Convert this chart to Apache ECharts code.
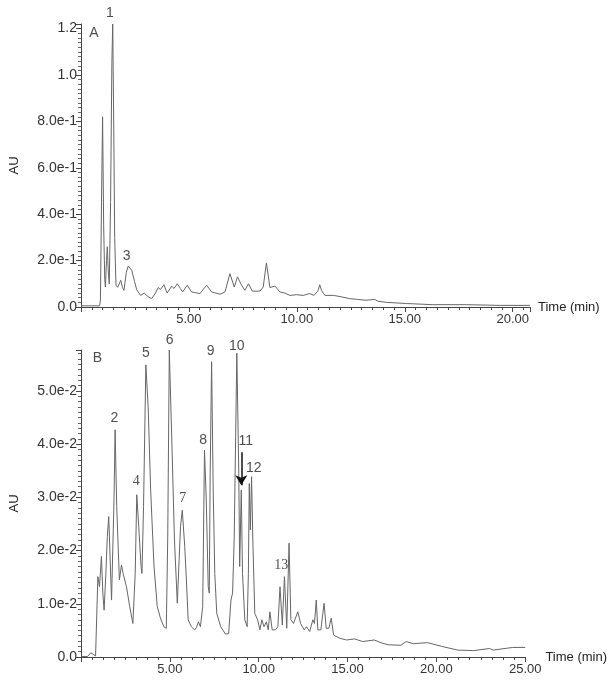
<!DOCTYPE html>
<html>
<head>
<meta charset="utf-8">
<script src="https://cdn.jsdelivr.net/npm/echarts@6/dist/echarts.min.js"></script>
<style>
  html, body { margin: 0; padding: 0; background: #fff; }
  #main { width: 608px; height: 680px; }
</style>
</head>
<body>
<div id="main"></div>
<script>
// chromatogram A: time (min) / absorbance (AU)
const timeA = [0, 0.5, 0.86, 0.9, 0.95, 1.0, 1.05, 1.1, 1.13, 1.18, 1.22, 1.26, 1.31, 1.37, 1.43, 1.47, 1.51, 1.56, 1.62,
  1.7, 1.84, 1.92, 1.99, 2.1, 2.19, 2.35, 2.48, 2.58, 2.76, 2.93, 3.1, 3.27, 3.45, 3.58, 3.68, 3.84, 3.99, 4.2, 4.31,
  4.46, 4.6, 4.71, 4.92, 5.12, 5.3, 5.51, 5.82, 6.05, 6.25, 6.44, 6.67, 6.9, 7.1, 7.25, 7.44, 7.59, 7.76, 7.93, 8.1,
  8.29, 8.44, 8.59, 8.75, 8.99, 9.21, 9.44, 9.68, 9.99, 10.29, 10.6, 10.79, 10.98, 11.06, 11.15, 11.3, 11.69, 12.0,
  12.45, 12.8, 13.2, 13.6, 13.75, 14.15, 15.08, 16.3, 17.85, 19.4, 20.8]
const auA = [0.005, 0.005, 0.005, 0.03, 0.45, 0.82, 0.35, 0.12, 0.086, 0.2, 0.26, 0.16, 0.10, 0.45, 1.05, 1.22, 0.85, 0.3, 0.094,
  0.085, 0.115, 0.085, 0.072, 0.15, 0.177, 0.158, 0.11, 0.075, 0.05, 0.06, 0.045, 0.036, 0.06, 0.084, 0.075, 0.096, 0.06, 0.09, 0.08,
  0.10, 0.08, 0.065, 0.094, 0.065, 0.062, 0.058, 0.094, 0.065, 0.06, 0.055, 0.065, 0.144, 0.086, 0.13, 0.094, 0.072, 0.10, 0.069, 0.068,
  0.069, 0.086, 0.19, 0.084, 0.09, 0.065, 0.06, 0.05, 0.053, 0.05, 0.058, 0.05, 0.07, 0.096, 0.07, 0.05, 0.05, 0.045,
  0.036, 0.033, 0.029, 0.033, 0.025, 0.02, 0.015, 0.01, 0.01, 0.007, 0.007]

// chromatogram B
const timeB = [0, 0.37, 0.55, 0.82, 0.91, 0.95, 1.04, 1.15, 1.23, 1.3, 1.4, 1.48, 1.56, 1.63, 1.72, 1.8, 1.86, 1.92, 2.01,
  2.16, 2.28, 2.37, 2.56, 2.74, 2.92, 2.98, 3.05, 3.14, 3.25, 3.38, 3.43, 3.52, 3.65, 3.78, 3.92, 4.11, 4.29, 4.47, 4.66,
  4.8, 4.88, 4.97, 5.11, 5.26, 5.42, 5.5, 5.6, 5.7, 5.84, 5.94, 6.03, 6.21, 6.39, 6.49, 6.61, 6.72, 6.85, 6.95, 7.05,
  7.16, 7.22, 7.27, 7.35, 7.44, 7.53, 7.64, 7.86, 8.13, 8.31, 8.44, 8.53, 8.62, 8.77, 8.88, 8.93, 9.02, 9.09, 9.22, 9.35,
  9.42, 9.47, 9.53, 9.6, 9.67, 9.78, 9.94, 10.07, 10.18, 10.3, 10.43, 10.54, 10.63, 10.76, 10.94, 11.08, 11.2, 11.33,
  11.45, 11.58, 11.71, 11.81, 11.96, 12.2, 12.36, 12.56, 12.69, 12.87, 13.05, 13.14, 13.24, 13.33, 13.5, 13.68, 13.8,
  13.95, 14.08, 14.22, 14.58, 14.95, 15.4, 15.86, 16.5, 16.95, 17.3, 18.0, 18.3, 18.7, 19.5, 20.3, 21.2, 22.1, 23.0,
  23.2, 24.3, 25]
const auB = [0.0001, 0.0001, 0.0008, 0.0002, 0.0001, 0.0151, 0.0132, 0.0189, 0.012, 0.0088, 0.0157, 0.0226, 0.0264, 0.0195, 0.0107, 0.011, 0.03, 0.0427, 0.0283,
  0.0145, 0.0173, 0.0157, 0.0132, 0.0095, 0.0063, 0.006, 0.0157, 0.0305, 0.0245, 0.017, 0.0157, 0.0283, 0.0549, 0.047, 0.0314, 0.017, 0.0095, 0.0073, 0.0057,
  0.0054, 0.022, 0.0577, 0.0408, 0.022, 0.0101, 0.0104, 0.0245, 0.0276, 0.0207, 0.0139, 0.007, 0.0057, 0.0051, 0.0055, 0.0066, 0.0057, 0.0095, 0.0389, 0.0295,
  0.0132, 0.012, 0.0345, 0.0555, 0.0314, 0.0157, 0.0082, 0.0057, 0.0043, 0.0044, 0.0107, 0.012, 0.022, 0.0571, 0.0345, 0.017, 0.0314, 0.0157, 0.007, 0.0057,
  0.0157, 0.0326, 0.0239, 0.0339, 0.022, 0.0082, 0.007, 0.0051, 0.007, 0.0057, 0.0066, 0.0051, 0.0085, 0.0051, 0.0051, 0.0057, 0.0132, 0.006,
  0.0151, 0.0054, 0.0214, 0.007, 0.0063, 0.0085, 0.0063, 0.0051, 0.0057, 0.0048, 0.007, 0.0063, 0.0107, 0.0051, 0.0051, 0.0101, 0.0054,
  0.0054, 0.0073, 0.0041, 0.0035, 0.0032, 0.0034, 0.0029, 0.0032, 0.0026, 0.0023, 0.0022, 0.0029, 0.0025, 0.0027, 0.002, 0.0013, 0.0012, 0.0016,
  0.0013, 0.0018, 0.0018]

// tick labels
const xTicksA = ['', '5.00', '10.00', '15.00', '20.00']
const yTicksA = ['0.0', '2.0e-1', '4.0e-1', '6.0e-1', '8.0e-1', '1.0', '1.2']
const xTicksB = ['', '5.00', '10.00', '15.00', '20.00', '25.00']
const yTicksB = ['0.0', '1.0e-2', '2.0e-2', '3.0e-2', '4.0e-2', '5.0e-2']

// peak numbers and panel letters: [time, AU, text]
const labelsA = [[0.6, 1.18, 'A'], [1.34, 1.265, '1'], [2.12, 0.22, '3']]
const labelsB = [[0.93, 0.0562, 'B'], [1.88, 0.0449, '2'], [3.11, 0.033, '4'], [3.65, 0.0571, '5'], [4.99, 0.0596, '6'],
  [5.72, 0.0299, '7'], [6.87, 0.0408, '8'], [7.3, 0.0574, '9'], [8.77, 0.0585, '10'], [9.28, 0.0405, '11'],
  [9.72, 0.0355, '12'], [11.27, 0.0173, '13']]
// arrow to peak 11
const arrowB = [[9.02, 0.0385], [9.02, 0.0323]]

function tickFmt(list, step) {
    return function (v) {
        let i = Math.round(v / step)
        if (Math.abs(i * step - v) > step * 0.01) return ''
        return list[i] || ''
    }
}

function xAxis(idx, max, ticks, minorSplit) {
    return {
        type: 'value', gridIndex: idx, min: 0, max: max, interval: 5,
        name: 'Time (min)', nameLocation: 'end', nameGap: 8,
        nameTextStyle: { color: '#222', fontSize: 13, fontFamily: 'Liberation Sans', verticalAlign: 'middle' },
        axisLine: { lineStyle: { color: '#444', width: 1 } },
        axisTick: { length: 5, lineStyle: { color: '#444' } },
        minorTick: { show: true, splitNumber: minorSplit, length: 3, lineStyle: { color: '#444' } },
        axisLabel: { formatter: tickFmt(ticks, 5), color: '#333', fontSize: 13, fontFamily: 'Liberation Sans', margin: 6 },
        splitLine: { show: false }
    }
}

function yAxis(idx, max, step, ticks) {
    return {
        type: 'value', gridIndex: idx, min: 0, max: max, interval: step,
        name: 'AU', nameLocation: 'middle', nameGap: 60, nameRotate: 90,
        nameTextStyle: { color: '#222', fontSize: 13, fontFamily: 'Liberation Sans' },
        axisLine: { show: true, lineStyle: { color: '#444', width: 1 } },
        axisTick: { show: true, length: 5, lineStyle: { color: '#444' } },
        minorTick: { show: true, splitNumber: 10, length: 3, lineStyle: { color: '#666' } },
        axisLabel: { formatter: tickFmt(ticks, step), color: '#333', fontSize: 14, fontFamily: 'Liberation Sans', margin: 4 },
        splitLine: { show: false }
    }
}

function labelSeries(idx, list) {
    return {
        type: 'scatter', xAxisIndex: idx, yAxisIndex: idx, clip: false, silent: true,
        symbolSize: 0,
        data: list.map(d => ({ value: d, label: { fontFamily: /^(4|7|13)$/.test(d[2]) ? 'Liberation Serif' : 'Liberation Sans' } })),
        label: { show: true, position: 'inside', formatter: p => p.value[2], color: '#222', fontSize: 14 }
    }
}

let myChart = echarts.init(document.getElementById('main'))

let options = {
    animation: false,
    backgroundColor: '#fff',
    grid: [
        { left: 81, top: 24, width: 449, height: 283 },
        { left: 80, top: 350, width: 457, height: 307 }
    ],
    xAxis: [xAxis(0, 20.8, xTicksA, 10), xAxis(1, 25, xTicksB, 8)],
    yAxis: [yAxis(0, 1.22, 0.2, yTicksA), yAxis(1, 0.0577, 0.01, yTicksB)],
    series: [
        {
            type: 'line', xAxisIndex: 0, yAxisIndex: 0, showSymbol: false,
            lineStyle: { color: '#666', width: 1 },
            data: timeA.map((t, i) => [t, auA[i]])
        },
        {
            type: 'line', xAxisIndex: 1, yAxisIndex: 1, showSymbol: false,
            lineStyle: { color: '#666', width: 1 },
            data: timeB.map((t, i) => [t, auB[i]]),
            markLine: {
                silent: true, symbol: ['none', 'arrow'], symbolSize: [9, 10],
                lineStyle: { color: '#111', width: 1.5, type: 'solid' },
                label: { show: false },
                data: [[{ coord: arrowB[0] }, { coord: arrowB[1] }]]
            }
        },
        labelSeries(0, labelsA),
        labelSeries(1, labelsB)
    ]
}

myChart.setOption(options)
</script>
</body>
</html>
